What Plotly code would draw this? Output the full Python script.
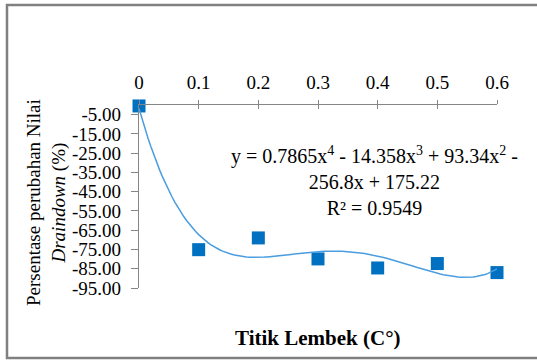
import plotly.graph_objects as go

# Data
categories = ["48.1", "50.7", "53.5", "55.2", "57.5", "58.8", "60.2"]
x_pos = [0, 0.1, 0.2, 0.3, 0.4, 0.5, 0.6]
top_labels = ["0", "0.1", "0.2", "0.3", "0.4", "0.5", "0.6"]
values = [-0.5, -75.1, -69.0, -79.9, -84.6, -82.3, -87.0]
y_ticks = [-5, -15, -25, -35, -45, -55, -65, -75, -85, -95]
y_ticktext = ["%.2f" % v for v in y_ticks]
# Polynomial trendline coefficients as printed on the chart (x = 1..7)
coef = [0.7865, -14.358, 93.34, -256.8, 175.22]

n_curve = 121
curve_x = [i * 0.6 / (n_curve - 1) for i in range(n_curve)]
def poly(t):
    k = t * 10 + 1
    return sum(c * k ** (4 - i) for i, c in enumerate(coef))
curve_y = [poly(t) for t in curve_x]

FONT = "Liberation Serif"
AXC = "#868686"

fig = go.Figure()
fig.add_trace(go.Scatter(x=curve_x, y=curve_y, mode="lines",
                         line=dict(color="#4a9de0", width=1.5),
                         xaxis="x3", yaxis="y", cliponaxis=False, hoverinfo="skip"))
fig.add_trace(go.Scatter(x=x_pos, y=values, mode="markers",
                         marker=dict(symbol="square", size=13, color="#0070C0"),
                         xaxis="x2", yaxis="y", cliponaxis=False))

L, R, T, B = 139, 40, 105, 72
W, H = 537, 360
pw, ph = W - L - R, H - T - B

tf = dict(family=FONT, size=19, color="#000000")
fig.update_layout(
    width=W, height=H,
    margin=dict(l=L, r=R, t=T, b=B),
    paper_bgcolor="white", plot_bgcolor="rgba(0,0,0,0)",
    showlegend=False,
    font=dict(family=FONT, size=19, color="#000000"),
    xaxis=dict(range=[0, 0.6], tickvals=x_pos, ticktext=categories,
               showline=False, showgrid=False, zeroline=False, ticks="",
               ticklabelstandoff=6, tickfont=tf),
    xaxis2=dict(range=[0, 0.6], overlaying="x", side="top", anchor="y",
                tickvals=x_pos, ticktext=top_labels,
                showline=True, linecolor=AXC, linewidth=1.3,
                ticks="outside", ticklen=4, tickcolor=AXC, tickwidth=1.3,
                showgrid=False, zeroline=False, ticklabelstandoff=3,
                tickfont=tf),
    xaxis3=dict(range=[0, 0.6], overlaying="x", side="top", anchor="y",
                tickvals=x_pos, showticklabels=False, showline=False,
                ticks="inside", ticklen=4, tickcolor=AXC, tickwidth=1.3,
                showgrid=False, zeroline=False),
    yaxis=dict(range=[-95, 0], tickvals=y_ticks, ticktext=y_ticktext,
               showline=True, linecolor=AXC, linewidth=1.3,
               ticks="outside", ticklen=7, tickcolor=AXC, tickwidth=1.3,
               showgrid=False, zeroline=False, ticklabelstandoff=6,
               tickfont=tf),
)

def px_x(p):
    return (p - L) / pw
def px_y(p):
    return (H - B - p) / ph

# Chart border
fig.add_shape(type="rect", xref="paper", yref="paper",
              x0=px_x(7), x1=px_x(560), y0=px_y(358), y1=px_y(5),
              line=dict(color="#808080", width=2.5), fillcolor="rgba(0,0,0,0)",
              layer="below")

# Equation
fig.add_annotation(xref="paper", yref="paper", x=px_x(374), y=px_y(181),
                   text="y = 0.7865x<sup>4</sup> - 14.358x<sup>3</sup> + 93.34x<sup>2</sup> -<br>256.8x + 175.22<br>R² = 0.9549",
                   showarrow=False, font=dict(family=FONT, size=20, color="#000000"),
                   align="center", xanchor="center", yanchor="middle")

# Y title
fig.add_annotation(xref="paper", yref="paper", x=px_x(46), y=px_y(203),
                   text="Persentase perubahan Nilai<br><i>Draindown</i> (%)",
                   textangle=-90, showarrow=False,
                   font=dict(family=FONT, size=19, color="#000000"),
                   align="center", xanchor="center", yanchor="middle")

# X title
fig.add_annotation(xref="paper", yref="paper", x=px_x(318), y=px_y(338),
                   text="<b>Titik Lembek (C°)</b>", showarrow=False,
                   font=dict(family=FONT, size=21, color="#000000"),
                   xanchor="center", yanchor="middle")

fig.write_html("out.html")
